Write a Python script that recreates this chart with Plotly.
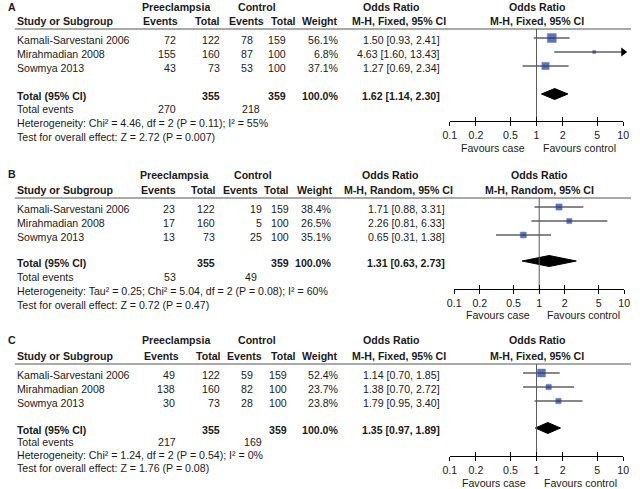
import math
import plotly.graph_objects as go

W, H = 640, 489
FONT = "Liberation Sans, Arial, sans-serif"
FS = 10.6
TXT = "#1a1a1a"

# ---------------- data ----------------
studies = ["Kamali-Sarvestani 2006", "Mirahmadian 2008", "Sowmya 2013"]
tick_vals = [0.1, 0.2, 0.5, 1, 2, 5, 10]
tick_text = ["0.1", "0.2", "0.5", "1", "2", "5", "10"]

A_case_events = [72, 155, 43]
A_case_total = [122, 160, 73]
A_ctrl_events = [78, 87, 53]
A_ctrl_total = [159, 100, 100]
A_weight = [56.1, 6.8, 37.1]
A_total_weight = 100.0
A_or = [1.50, 4.63, 1.27]
A_lo = [0.93, 1.60, 0.69]
A_hi = [2.41, 13.43, 2.34]
A_pooled = [1.62, 1.14, 2.30]
A_totals = [355, 359]
A_total_events = [270, 218]
A_method = "M-H, Fixed, 95% CI"
A_het = "Heterogeneity: Chi² = 4.46, df = 2 (P = 0.11); I² = 55%"
A_test = "Test for overall effect: Z = 2.72 (P = 0.007)"

B_case_events = [23, 17, 13]
B_case_total = [122, 160, 73]
B_ctrl_events = [19, 5, 25]
B_ctrl_total = [159, 100, 100]
B_weight = [38.4, 26.5, 35.1]
B_total_weight = 100.0
B_or = [1.71, 2.26, 0.65]
B_lo = [0.88, 0.81, 0.31]
B_hi = [3.31, 6.33, 1.38]
B_pooled = [1.31, 0.63, 2.73]
B_totals = [355, 359]
B_total_events = [53, 49]
B_method = "M-H, Random, 95% CI"
B_het = "Heterogeneity: Tau² = 0.25; Chi² = 5.04, df = 2 (P = 0.08); I² = 60%"
B_test = "Test for overall effect: Z = 0.72 (P = 0.47)"

C_case_events = [49, 138, 30]
C_case_total = [122, 160, 73]
C_ctrl_events = [59, 82, 28]
C_ctrl_total = [159, 100, 100]
C_weight = [52.4, 23.7, 23.8]
C_total_weight = 100.0
C_or = [1.14, 1.38, 1.79]
C_lo = [0.70, 0.70, 0.95]
C_hi = [1.85, 2.72, 3.40]
C_pooled = [1.35, 0.97, 1.89]
C_totals = [355, 359]
C_total_events = [217, 169]
C_method = "M-H, Fixed, 95% CI"
C_het = "Heterogeneity: Chi² = 1.24, df = 2 (P = 0.54); I² = 0%"
C_test = "Test for overall effect: Z = 1.76 (P = 0.08)"

# ---------------- layout geometry (pixels) ----------------
panels = [
    dict(label="A", ce=A_case_events, ct=A_case_total, ke=A_ctrl_events, kt=A_ctrl_total,
         w=A_weight, tw=A_total_weight, est=A_or, lo=A_lo, hi=A_hi, pooled=A_pooled, totals=A_totals,
         tev=A_total_events, method=A_method, het=A_het, test=A_test,
         g=dict(lab=7, h1=7, h2=21, line=29, rows=[40, 54, 68], tot=96, tevy=109, hety=123,
                testy=137, axis=121, fav=148, x0=452, x1=629, msz=1.2,
                ev1=173, tot1=217, ev2=251, tot2=285, wt=339, ort=442, tev1=173, tev2=258,
                pre=173, ctl=255, hev1=175, htot1=217, hev2=262, htot2=295, hwt=338,
                orc=392, mhc=400, plc=541, favc=496, favk=584)),
    dict(label="B", ce=B_case_events, ct=B_case_total, ke=B_ctrl_events, kt=B_ctrl_total,
         w=B_weight, tw=B_total_weight, est=B_or, lo=B_lo, hi=B_hi, pooled=B_pooled, totals=B_totals,
         tev=B_total_events, method=B_method, het=B_het, test=B_test,
         g=dict(lab=174, h1=175, h2=190, line=198, rows=[209, 223, 237], tot=263, tevy=277, hety=291,
                testy=305, axis=289, fav=315, x0=456.5, x1=630, msz=1.0,
                ev1=171, tot1=212, ev2=260, tot2=288, wt=332, ort=447, tev1=172, tev2=255,
                pre=170, ctl=251, hev1=172, htot1=213, hev2=256, htot2=288, hwt=333,
                orc=391, mhc=400, plc=544, favc=501, favk=588)),
    dict(label="C", ce=C_case_events, ct=C_case_total, ke=C_ctrl_events, kt=C_ctrl_total,
         w=C_weight, tw=C_total_weight, est=C_or, lo=C_lo, hi=C_hi, pooled=C_pooled, totals=C_totals,
         tev=C_total_events, method=C_method, het=C_het, test=C_test,
         g=dict(lab=340, h1=340, h2=356, line=364, rows=[375, 389, 403], tot=430, tevy=442, hety=455,
                testy=468, axis=456, fav=482.5, x0=452, x1=629, msz=1.1,
                ev1=171, tot1=217, ev2=251, tot2=286, wt=339, ort=442, tev1=172, tev2=260,
                pre=173, ctl=255, hev1=176, htot1=218, hev2=260, htot2=295, hwt=338,
                orc=392, mhc=400, plc=541, favc=497, favk=585)),
]

fig = go.Figure()
ann = []
shapes = []


def txt(x, y, s, anchor="left", bold=False):
    if bold:
        s = "<b>" + s + "</b>"
    ann.append(dict(x=x / W, y=1 - y / H, xref="paper", yref="paper", text=s,
                    showarrow=False, xanchor=anchor, yanchor="middle", borderpad=0,
                    borderwidth=0, font=dict(family=FONT, size=FS, color=TXT)))


layout_axes = {}
for i, p in enumerate(panels):
    g = p["g"]
    s = "" if i == 0 else str(i + 1)
    so = str(i + 4)
    xa, ya, xo = "x" + s, "y" + s, "x" + so

    # ---- table text ----
    txt(1, g["lab"], p["label"], bold=True)
    txt(g["pre"], g["h1"], "Preeclampsia", "center", True)
    txt(g["ctl"], g["h1"], "Control", "center", True)
    txt(g["orc"], g["h1"], "Odds Ratio", "center", True)
    txt(g["plc"], g["h1"], "Odds Ratio", "center", True)
    txt(10, g["h2"], "Study or Subgroup", bold=True)
    txt(g["hev1"], g["h2"], "Events", "right", True)
    txt(g["htot1"], g["h2"], "Total", "right", True)
    txt(g["hev2"], g["h2"], "Events", "right", True)
    txt(g["htot2"], g["h2"], "Total", "right", True)
    txt(g["hwt"], g["h2"], "Weight", "right", True)
    txt(g["mhc"], g["h2"], p["method"], "center", True)
    txt(g["plc"], g["h2"], p["method"], "center", True)
    shapes.append(dict(type="line", xref="paper", yref="paper", x0=8 / W, x1=637 / W,
                       y0=1 - g["line"] / H, y1=1 - g["line"] / H,
                       line=dict(color="#555555", width=1)))

    for k, name in enumerate(studies):
        y = g["rows"][k]
        txt(10, y, name)
        txt(g["ev1"], y, str(p["ce"][k]), "right")
        txt(g["tot1"], y, str(p["ct"][k]), "right")
        txt(g["ev2"], y, str(p["ke"][k]), "right")
        txt(g["tot2"], y, str(p["kt"][k]), "right")
        txt(g["wt"], y, f"{p['w'][k]:.1f}%", "right")
        txt(g["ort"], y, f"{p['est'][k]:.2f} [{p['lo'][k]:.2f}, {p['hi'][k]:.2f}]", "right")

    txt(10, g["tot"], "Total (95% CI)", bold=True)
    txt(g["tot1"], g["tot"], str(p["totals"][0]), "right", True)
    txt(g["tot2"], g["tot"], str(p["totals"][1]), "right", True)
    txt(g["wt"], g["tot"], f"{p['tw']:.1f}%", "right", True)
    pe, pl, ph = p["pooled"]
    txt(g["ort"], g["tot"], f"{pe:.2f} [{pl:.2f}, {ph:.2f}]", "right", True)
    txt(10, g["tevy"], "Total events")
    txt(g["tev1"], g["tevy"], str(p["tev"][0]), "right")
    txt(g["tev2"], g["tevy"], str(p["tev"][1]), "right")
    txt(10, g["hety"], p["het"])
    txt(10, g["testy"], p["test"])
    txt(g["favc"], g["fav"], "Favours case", "center")
    txt(g["favk"], g["fav"], "Favours control", "center")

    # ---- forest plot axes ----
    dom_x = [g["x0"] / W, g["x1"] / W]
    dom_y = [1 - g["axis"] / H, 1 - g["line"] / H]
    rng = [math.log10(tick_vals[0]), math.log10(tick_vals[-1])]
    layout_axes["xaxis" + s] = dict(
        type="log", range=rng, domain=dom_x, anchor=ya, showline=True, linecolor="#000",
        linewidth=1, ticks="outside", ticklen=4, tickcolor="#000", tickwidth=1,
        tickvals=tick_vals, ticktext=tick_text, showgrid=False, zeroline=False,
        tickfont=dict(family=FONT, size=FS, color=TXT), fixedrange=True)
    layout_axes["xaxis" + so] = dict(
        type="log", range=rng, overlaying=xa, anchor=ya, showline=False, ticks="inside",
        ticklen=4, tickcolor="#000", tickwidth=1, tickvals=tick_vals,
        showticklabels=False, showgrid=False, zeroline=False, fixedrange=True)
    layout_axes["yaxis" + s] = dict(
        range=[g["axis"], g["line"]], domain=dom_y, anchor=xa, visible=False,
        showgrid=False, zeroline=False, fixedrange=True)

    # reference line at OR = 1
    fig.add_trace(go.Scatter(x=[1, 1], y=[g["line"], g["axis"]], mode="lines",
                             line=dict(color="#5a5a5a", width=1), xaxis=xo, yaxis=ya,
                             hoverinfo="skip", showlegend=False))
    # CI lines
    cx, cy = [], []
    for k in range(len(studies)):
        cx += [p["lo"][k], p["hi"][k], None]
        cy += [g["rows"][k] - 2, g["rows"][k] - 2, None]
    fig.add_trace(go.Scatter(x=cx, y=cy, mode="lines", line=dict(color="#111", width=1),
                             xaxis=xa, yaxis=ya, hoverinfo="skip", showlegend=False))
    # arrows for CIs beyond axis
    ax_, ay_ = [], []
    for k in range(len(studies)):
        if p["hi"][k] > tick_vals[-1]:
            ax_.append(tick_vals[-1])
            ay_.append(g["rows"][k] - 2)
    if ax_:
        fig.add_trace(go.Scatter(x=ax_, y=ay_, mode="markers", cliponaxis=False,
                                 marker=dict(symbol="triangle-right", size=8, color="#000"),
                                 xaxis=xa, yaxis=ya, hoverinfo="skip", showlegend=False))
    # squares
    fig.add_trace(go.Scatter(
        x=p["est"], y=[r - 2 for r in g["rows"]], mode="markers", cliponaxis=False,
        marker=dict(symbol="square", color="#1b3a98",
                    size=[g["msz"] * math.sqrt(w) for w in p["w"]],
                    line=dict(color="#2f4fa8", width=0.5)),
        xaxis=xa, yaxis=ya, hoverinfo="skip", showlegend=False))
    # pooled diamond
    ty = g["tot"] - 2
    fig.add_trace(go.Scatter(x=[pl, pe, ph, pe, pl], y=[ty, ty - 5.5, ty, ty + 5.5, ty],
                             mode="lines", fill="toself", fillcolor="#000",
                             line=dict(color="#000", width=1), xaxis=xa, yaxis=ya,
                             hoverinfo="skip", showlegend=False))

fig.update_layout(
    width=W, height=H, margin=dict(l=0, r=0, t=0, b=0),
    paper_bgcolor="white", plot_bgcolor="white",
    annotations=ann, shapes=shapes, showlegend=False,
    font=dict(family=FONT, size=FS, color=TXT),
    **layout_axes)

fig.write_html("out.html", config={"displayModeBar": False},
               post_script="document.body.style.margin='0';document.body.style.padding='0';")
